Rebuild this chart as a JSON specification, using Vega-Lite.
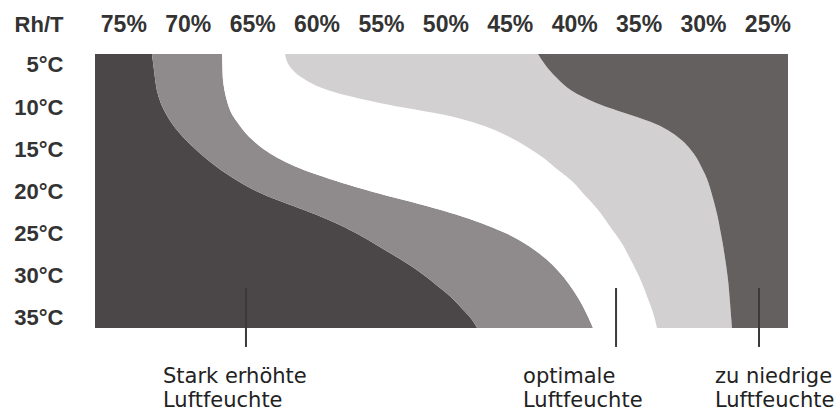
{
  "$schema": "https://vega.github.io/schema/vega-lite/v6.json",
  "width": 693,
  "height": 274,
  "autosize": {"type": "none"},
  "padding": {"left": 95, "top": 54, "right": 46, "bottom": 84},
  "background": "white",
  "config": {
    "view": {"stroke": null},
    "axis": {
      "ticks": false, "domain": false, "grid": false,
      "labelFont": "Liberation Sans", "labelFontWeight": "bold", "labelColor": "#333333",
      "labelOverlap": false, "labelBound": false, "labelFlush": false
    },
    "axisX": {"labelPadding": 23, "labelBaseline": "alphabetic", "labelAlign": "center", "labelFontSize": 23},
    "axisY": {
      "labelPadding": 32, "labelAlign": "right", "labelBaseline": "middle", "labelFontSize": 22,
      "titleAngle": 0, "titleX": -32, "titleY": -23, "titleAlign": "right", "titleBaseline": "alphabetic",
      "titleFont": "Liberation Sans", "titleFontWeight": "bold", "titleFontSize": 22, "titleColor": "#333333"
    }
  },
  "datasets": {
    "bands": [
      {"t": 3.7, "b1": 72.78, "b2": 67.34, "b3": 62.45, "b4": 42.81},
      {"t": 5, "b1": 72.67, "b2": 67.31, "b3": 62.15, "b4": 42.24},
      {"t": 6.5, "b1": 72.55, "b2": 67.28, "b3": 61.15, "b4": 41.38},
      {"t": 8, "b1": 72.40, "b2": 67.15, "b3": 59.10, "b4": 40.25},
      {"t": 9.5, "b1": 72.10, "b2": 66.91, "b3": 55.11, "b4": 38.29},
      {"t": 11, "b1": 71.62, "b2": 66.51, "b3": 49.84, "b4": 35.49},
      {"t": 12, "b1": 71.20, "b2": 66.05, "b3": 47.45, "b4": 33.67},
      {"t": 13, "b1": 70.68, "b2": 65.55, "b3": 45.74, "b4": 32.45},
      {"t": 14, "b1": 70.08, "b2": 64.90, "b3": 44.47, "b4": 31.60},
      {"t": 15, "b1": 69.40, "b2": 64.10, "b3": 43.38, "b4": 30.98},
      {"t": 16, "b1": 68.65, "b2": 63.05, "b3": 42.40, "b4": 30.50},
      {"t": 17, "b1": 67.82, "b2": 61.70, "b3": 41.60, "b4": 30.15},
      {"t": 18, "b1": 66.90, "b2": 60.00, "b3": 40.79, "b4": 29.83},
      {"t": 19, "b1": 65.85, "b2": 58.00, "b3": 40.02, "b4": 29.57},
      {"t": 20, "b1": 64.62, "b2": 55.75, "b3": 39.43, "b4": 29.37},
      {"t": 21, "b1": 63.10, "b2": 53.30, "b3": 38.84, "b4": 29.19},
      {"t": 22, "b1": 61.35, "b2": 50.85, "b3": 38.25, "b4": 29.02},
      {"t": 23, "b1": 59.65, "b2": 48.65, "b3": 37.74, "b4": 28.86},
      {"t": 24, "b1": 58.15, "b2": 46.80, "b3": 37.29, "b4": 28.73},
      {"t": 25, "b1": 56.88, "b2": 45.25, "b3": 36.82, "b4": 28.61},
      {"t": 26.5, "b1": 55.18, "b2": 43.50, "b3": 36.16, "b4": 28.43},
      {"t": 28, "b1": 53.55, "b2": 42.20, "b3": 35.65, "b4": 28.28},
      {"t": 29.5, "b1": 52.05, "b2": 41.20, "b3": 35.15, "b4": 28.14},
      {"t": 31, "b1": 50.77, "b2": 40.40, "b3": 34.70, "b4": 28.02},
      {"t": 32.5, "b1": 49.59, "b2": 39.75, "b3": 34.33, "b4": 27.94},
      {"t": 34, "b1": 48.65, "b2": 39.20, "b3": 33.96, "b4": 27.86},
      {"t": 35, "b1": 48.04, "b2": 38.88, "b3": 33.76, "b4": 27.81},
      {"t": 36.2, "b1": 47.54, "b2": 38.54, "b3": 33.57, "b4": 27.75}
    ],
    "pointers": [
      {"h": 65.48, "t1": 31.46, "t2": 38.45},
      {"h": 36.75, "t1": 31.46, "t2": 38.45},
      {"h": 25.65, "t1": 31.46, "t2": 38.45}
    ],
    "notes": [
      {"text": "Stark erhöhte", "h": 71.92, "t": 42.72},
      {"text": "Luftfeuchte", "h": 71.92, "t": 45.57},
      {"text": "optimale", "h": 43.97, "t": 42.72},
      {"text": "Luftfeuchte", "h": 43.97, "t": 45.57},
      {"text": "zu niedrige", "h": 29.07, "t": 42.72},
      {"text": "Luftfeuchte", "h": 29.07, "t": 45.57}
    ]
  },
  "layer": [
    {
      "data": {"name": "bands"},
      "mark": {"type": "area", "orient": "horizontal", "interpolate": "monotone", "color": "#4b4647"},
      "encoding": {
        "y": {
          "field": "t", "type": "quantitative",
          "scale": {"domain": [3.7, 36.2], "reverse": true, "nice": false, "zero": false},
          "axis": {"values": [5, 10, 15, 20, 25, 30, 35], "labelExpr": "datum.value + '°C'", "title": "Rh/T"}
        },
        "x": {
          "field": "b1", "type": "quantitative", "stack": null,
          "scale": {"domain": [23.4, 77.2], "reverse": true, "nice": false, "zero": false},
          "axis": {"orient": "top", "values": [75, 70, 65, 60, 55, 50, 45, 40, 35, 30, 25], "labelExpr": "datum.value + '%'", "title": null}
        },
        "x2": {"datum": 77.2}
      }
    },
    {
      "data": {"name": "bands"},
      "mark": {"type": "area", "orient": "horizontal", "interpolate": "monotone", "color": "#8f8b8c"},
      "encoding": {
        "y": {"field": "t", "type": "quantitative",
          "axis": {"values": [5, 10, 15, 20, 25, 30, 35], "labelExpr": "datum.value + '°C'", "title": "Rh/T"}},
        "x": {"field": "b2", "type": "quantitative", "stack": null,
          "axis": {"orient": "top", "values": [75, 70, 65, 60, 55, 50, 45, 40, 35, 30, 25], "labelExpr": "datum.value + '%'", "title": null}},
        "x2": {"field": "b1"}
      }
    },
    {
      "data": {"name": "bands"},
      "mark": {"type": "area", "orient": "horizontal", "interpolate": "monotone", "color": "#ffffff"},
      "encoding": {
        "y": {"field": "t", "type": "quantitative",
          "axis": {"values": [5, 10, 15, 20, 25, 30, 35], "labelExpr": "datum.value + '°C'", "title": "Rh/T"}},
        "x": {"field": "b3", "type": "quantitative", "stack": null,
          "axis": {"orient": "top", "values": [75, 70, 65, 60, 55, 50, 45, 40, 35, 30, 25], "labelExpr": "datum.value + '%'", "title": null}},
        "x2": {"field": "b2"}
      }
    },
    {
      "data": {"name": "bands"},
      "mark": {"type": "area", "orient": "horizontal", "interpolate": "monotone", "color": "#d3d0d1"},
      "encoding": {
        "y": {"field": "t", "type": "quantitative",
          "axis": {"values": [5, 10, 15, 20, 25, 30, 35], "labelExpr": "datum.value + '°C'", "title": "Rh/T"}},
        "x": {"field": "b4", "type": "quantitative", "stack": null,
          "axis": {"orient": "top", "values": [75, 70, 65, 60, 55, 50, 45, 40, 35, 30, 25], "labelExpr": "datum.value + '%'", "title": null}},
        "x2": {"field": "b3"}
      }
    },
    {
      "data": {"name": "bands"},
      "mark": {"type": "area", "orient": "horizontal", "interpolate": "monotone", "color": "#64605f"},
      "encoding": {
        "y": {"field": "t", "type": "quantitative",
          "axis": {"values": [5, 10, 15, 20, 25, 30, 35], "labelExpr": "datum.value + '°C'", "title": "Rh/T"}},
        "x": {"field": "b4", "type": "quantitative", "stack": null,
          "axis": {"orient": "top", "values": [75, 70, 65, 60, 55, 50, 45, 40, 35, 30, 25], "labelExpr": "datum.value + '%'", "title": null}},
        "x2": {"datum": 23.4}
      }
    },
    {
      "data": {"name": "pointers"},
      "mark": {"type": "rule", "color": "#3a3a3a", "strokeWidth": 2},
      "encoding": {
        "x": {"field": "h", "type": "quantitative",
          "axis": {"orient": "top", "values": [75, 70, 65, 60, 55, 50, 45, 40, 35, 30, 25], "labelExpr": "datum.value + '%'", "title": null}},
        "y": {"field": "t1", "type": "quantitative",
          "axis": {"values": [5, 10, 15, 20, 25, 30, 35], "labelExpr": "datum.value + '°C'", "title": "Rh/T"}},
        "y2": {"field": "t2"}
      }
    },
    {
      "data": {"name": "notes"},
      "mark": {"type": "text", "align": "left", "baseline": "alphabetic", "font": "DejaVu Sans", "fontSize": 21, "color": "#222222"},
      "encoding": {
        "x": {"field": "h", "type": "quantitative",
          "axis": {"orient": "top", "values": [75, 70, 65, 60, 55, 50, 45, 40, 35, 30, 25], "labelExpr": "datum.value + '%'", "title": null}},
        "y": {"field": "t", "type": "quantitative",
          "axis": {"values": [5, 10, 15, 20, 25, 30, 35], "labelExpr": "datum.value + '°C'", "title": "Rh/T"}},
        "text": {"field": "text"}
      }
    }
  ]
}
